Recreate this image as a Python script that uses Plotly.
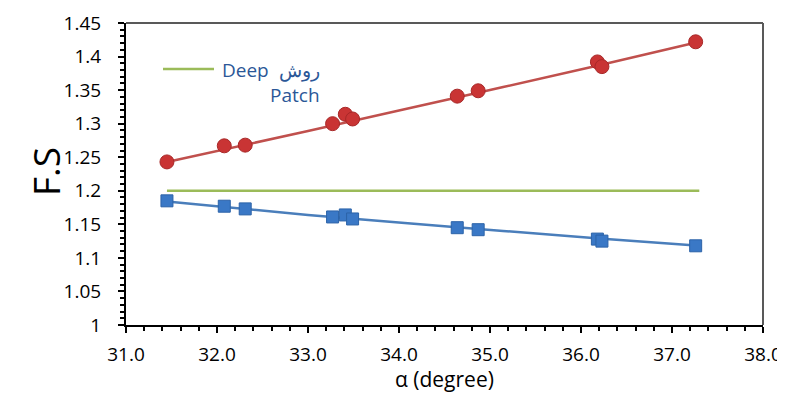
import plotly.graph_objects as go

# ---- data ----
alpha = [31.45, 32.08, 32.31, 33.27, 33.41, 33.49, 34.64, 34.87, 36.18, 36.23, 37.26]
fs_red = [1.243, 1.267, 1.268, 1.300, 1.314, 1.307, 1.341, 1.349, 1.392, 1.385, 1.422]
fs_blue = [1.185, 1.177, 1.173, 1.161, 1.164, 1.158, 1.145, 1.142, 1.128, 1.125, 1.118]

trend_x = [31.45, 33.0, 34.6, 36.2, 37.3]
trend_red = [1.243, 1.289, 1.338, 1.387, 1.422]
trend_blue = [1.184, 1.164, 1.146, 1.129, 1.118]

deep_x = [31.45, 37.3]
deep_fs = [1.2, 1.2]

x_ticks = [31, 32, 33, 34, 35, 36, 37, 38]
x_tick_labels = ["31.0", "32.0", "33.0", "34.0", "35.0", "36.0", "37.0", "38.0"]
y_ticks = [1, 1.05, 1.1, 1.15, 1.2, 1.25, 1.3, 1.35, 1.4, 1.45]
y_tick_labels = ["1", "1.05", "1.1", "1.15", "1.2", "1.25", "1.3", "1.35", "1.4", "1.45"]

FONT = "Open Sans"
RED_LINE = "#C0504D"
RED_MARK = "#C93434"
BLUE_LINE = "#4A7EBB"
BLUE_MARK = "#3A78C6"
GREEN = "#9BBB59"

# page body has an 8px margin: compensate in figure size / margins
W, H = 777, 388
ML, MR, MT, MB = 118, 22, 15, 71
PW, PH = W - ML - MR, H - MT - MB


def px_x(x):
    return (x - (ML + 8)) / PW


def px_y(y):
    return ((H - MB + 8) - y) / PH


fig = go.Figure()

fig.add_trace(go.Scatter(x=deep_x, y=deep_fs, mode="lines",
                         line=dict(color=GREEN, width=2.5), showlegend=False))
fig.add_trace(go.Scatter(x=trend_x, y=trend_red, mode="lines",
                         line=dict(color=RED_LINE, width=2.5, shape="spline"), showlegend=False))
fig.add_trace(go.Scatter(x=trend_x, y=trend_blue, mode="lines",
                         line=dict(color=BLUE_LINE, width=2.5, shape="spline"), showlegend=False))
fig.add_trace(go.Scatter(x=alpha, y=fs_red, mode="markers",
                         marker=dict(symbol="circle", size=14, color=RED_MARK,
                                     line=dict(color="#A82828", width=1)),
                         showlegend=False))
fig.add_trace(go.Scatter(x=alpha, y=fs_blue, mode="markers",
                         marker=dict(symbol="square", size=12, color=BLUE_MARK,
                                     line=dict(color="#2C63A8", width=1)),
                         showlegend=False))

# legend-like label
fig.add_shape(type="line", xref="paper", yref="paper",
              x0=px_x(163), x1=px_x(214), y0=px_y(69), y1=px_y(69),
              line=dict(color=GREEN, width=2.5))
fig.add_annotation(xref="paper", yref="paper",
                   x=px_x(322), y=px_y(55),
                   xanchor="right", yanchor="top", align="right",
                   text="Deep  روش<br>Patch", showarrow=False,
                   font=dict(family=FONT, size=19, color="#2B5797"))

# x-axis title
fig.add_annotation(xref="paper", yref="paper",
                   x=px_x(444), y=px_y(395),
                   xanchor="center", yanchor="bottom",
                   text="α (degree)", showarrow=False,
                   font=dict(family=FONT, size=21, color="black"))

# y-axis title
fig.add_annotation(xref="paper", yref="paper",
                   x=px_x(45), y=px_y(172),
                   xanchor="center", yanchor="middle", textangle=-90,
                   text="F.S", showarrow=False,
                   font=dict(family=FONT, size=37, color="black"))

# top / right border in gray
fig.add_shape(type="line", xref="paper", yref="paper", x0=0, x1=1, y0=1, y1=1,
              line=dict(color="#595959", width=2))
fig.add_shape(type="line", xref="paper", yref="paper", x0=1, x1=1, y0=0, y1=1,
              line=dict(color="#595959", width=2))

fig.update_layout(
    width=W, height=H,
    margin=dict(l=ML, r=MR, t=MT, b=MB),
    paper_bgcolor="white", plot_bgcolor="white",
    font=dict(family=FONT, size=19, color="black"),
    showlegend=False,
    xaxis=dict(
        range=[31, 38], tickvals=x_ticks, ticktext=x_tick_labels,
        showgrid=False, zeroline=False, automargin=False,
        showline=True, linecolor="black", linewidth=2,
        ticks="outside", ticklen=6, tickwidth=2, tickcolor="black",
        minor=dict(dtick=0.2, ticks="outside", ticklen=4, tickwidth=1.5, tickcolor="black", showgrid=False),
        tickfont=dict(family=FONT, size=19),
        ticklabelstandoff=5,
    ),
    yaxis=dict(
        range=[1, 1.45], tickvals=y_ticks, ticktext=y_tick_labels,
        showgrid=False, zeroline=False, automargin=False,
        showline=True, linecolor="black", linewidth=2,
        ticks="outside", ticklen=6, tickwidth=2, tickcolor="black",
        minor=dict(dtick=0.01, ticks="outside", ticklen=4, tickwidth=1.5, tickcolor="black", showgrid=False),
        tickfont=dict(family=FONT, size=19),
        ticklabelstandoff=13,
    ),
)

fig.write_html("out.html")
